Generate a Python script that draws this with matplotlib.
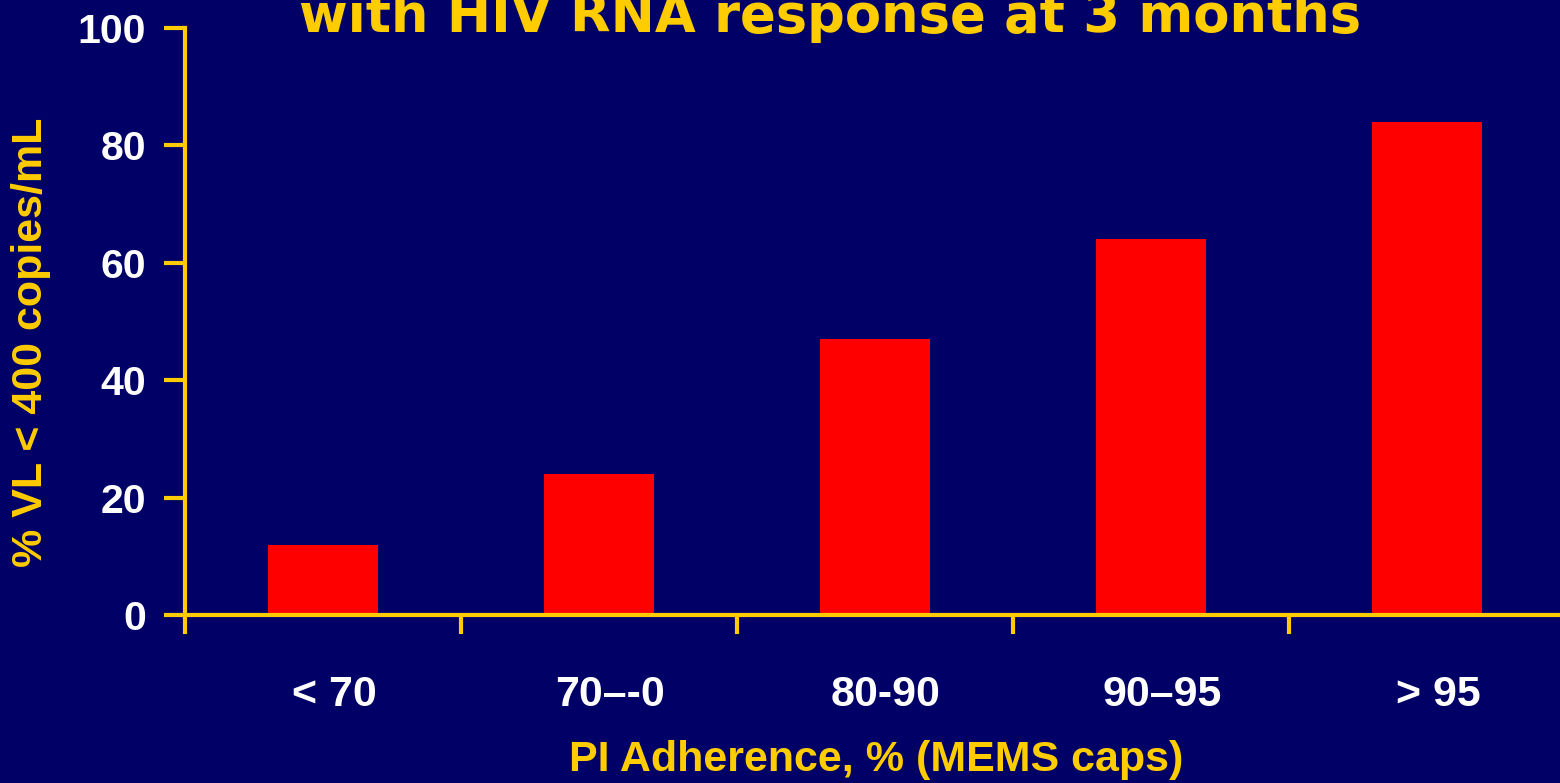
import matplotlib
matplotlib.use("Agg")
import matplotlib.pyplot as plt
import matplotlib.transforms as mtransforms
import numpy as np

categories = ["< 70", "70\u2013-0", "80-90", "90\u201395", "> 95"]
pct_suppressed = [12, 24, 47, 64, 84]

navy = "#000066"
yellow = "#FFCC00"

plt.rcParams['font.family'] = ['Liberation Sans', 'DejaVu Sans']

fig = plt.figure(figsize=(15.6, 7.83), dpi=100, facecolor=navy)
ax = fig.add_axes([185 / 1560, 1 - 615 / 783, 1380 / 1560, 587 / 783])
ax.set_facecolor(navy)

pos = np.arange(len(categories))
ax.bar(pos, pct_suppressed, width=0.4, color="#FF0000", zorder=2)

ax.set_xlim(-0.5, len(categories) - 0.5)
ax.set_ylim(0, 100)
ax.set_yticks([0, 20, 40, 60, 80, 100])

# tick marks sit on category boundaries, labels at the centres
ax.set_xticks(np.arange(len(categories)) - 0.5)
ax.set_xticklabels([])
ax.set_xticks(pos, minor=True)
ax.set_xticklabels(categories, minor=True, color="white", fontsize=31,
                   fontweight="bold")
ax.tick_params(axis="x", which="minor", length=0, pad=43)
ax.tick_params(axis="x", which="major", length=14, width=3, color=yellow,
               direction="out")
ax.tick_params(axis="y", length=15, width=3, color=yellow, labelcolor="white",
               labelsize=29.5, pad=13)
for lab in ax.get_yticklabels():
    lab.set_fontweight("bold")

# category labels sit a little right of the bar centres
shift = mtransforms.ScaledTranslation(11 / 100, 0, fig.dpi_scale_trans)
for lab in ax.get_xticklabels(minor=True):
    lab.set_transform(lab.get_transform() + shift)

ax.yaxis.get_major_ticks()[0].tick1line.set_color("white")
ax.xaxis.get_major_ticks()[0].tick1line.set_color("white")

for side in ["top", "right"]:
    ax.spines[side].set_visible(False)
for side in ["left", "bottom"]:
    ax.spines[side].set_color(yellow)
    ax.spines[side].set_linewidth(3)

fig.text(876 / 1560, 1 - 760 / 783, "PI Adherence, % (MEMS caps)",
         color=yellow, fontsize=31, fontweight="bold", ha="center", va="center")
fig.text(31 / 1560, 1 - 342 / 783, "% VL < 400 copies/mL", color=yellow,
         fontsize=31, fontweight="bold", rotation=90, ha="center", va="center")
fig.text(830 / 1560, 1 - 32 / 783, "with HIV RNA response at 3 months",
         color=yellow, fontsize=38, fontweight="bold", family="DejaVu Sans",
         ha="center", va="baseline")

fig.savefig("out.png", dpi=100, facecolor=navy)
